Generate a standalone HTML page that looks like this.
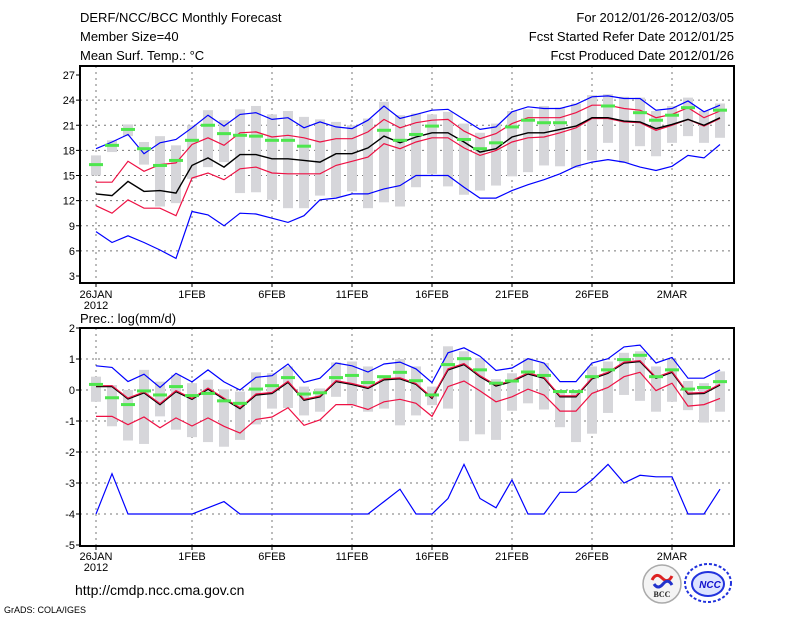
<!DOCTYPE html>
<html><head><meta charset="utf-8"><style>
html,body{margin:0;padding:0;background:#fff;}
svg{display:block;font-family:"Liberation Sans",sans-serif;}
</style></head><body>
<svg id="chart" width="800" height="618" viewBox="0 0 800 618">
<g id="hdr" font-size="13" fill="#000">
<text x="80" y="22">DERF/NCC/BCC Monthly Forecast</text>
<text x="80" y="41">Member Size=40</text>
<text x="80" y="60">Mean Surf. Temp.: °C</text>
<text x="734" y="22" text-anchor="end">For 2012/01/26-2012/03/05</text>
<text x="734" y="41" text-anchor="end">Fcst Started Refer Date 2012/01/25</text>
<text x="734" y="60" text-anchor="end">Fcst Produced Date 2012/01/26</text>
<text x="80" y="323">Prec.: log(mm/d)</text>
<text x="75" y="595" font-size="14">http://cmdp.ncc.cma.gov.cn</text>
<text x="4" y="613" font-size="9">GrADS: COLA/IGES</text>
</g>
<g>
<circle cx="662" cy="584" r="19" fill="#f4f4f4" stroke="#aaa" stroke-width="1.5"/>
<path d="M652 580 q4 -8 10 -2 q6 6 10 -2" stroke="#d22" stroke-width="3" fill="none"/>
<path d="M654 584 q4 6 9 0 q5 -6 9 1" stroke="#23c" stroke-width="3" fill="none"/>
<text x="662" y="597" font-size="8" font-weight="bold" text-anchor="middle" font-family="Liberation Serif,serif" fill="#222">BCC</text>
</g>
<g>
<ellipse cx="708" cy="583" rx="23" ry="19" fill="none" stroke="#23d" stroke-width="2" stroke-dasharray="3 2"/>
<ellipse cx="708" cy="584" rx="16" ry="12" fill="#dde4ff" stroke="#23d" stroke-width="2"/>
<text x="710" y="588" font-size="10" font-weight="bold" font-style="italic" text-anchor="middle" fill="#11c">NCC</text>
</g>
<g id="top"></g>
<g id="bot"></g>
</svg>
<script>
// ---- data: temperature panel ----
const dayLabels = ["26JAN","1FEB","6FEB","11FEB","16FEB","21FEB","26FEB","2MAR"];
const labelDays = [0,6,11,16,21,26,31,36];
const tTicks = [3,6,9,12,15,18,21,24,27];
const tBlueHi = [18.2,19.0,19.9,17.6,18.9,19.3,20.7,22.2,20.9,22.3,22.5,21.7,21.9,20.7,21.4,20.8,20.6,21.6,23.3,21.8,22.3,22.8,22.9,21.7,20.5,20.8,22.6,23.2,23.0,23.0,23.5,24.4,24.5,24.2,24.2,22.8,23.0,23.9,22.6,23.4];
const tRedHi = [14.2,14.2,16.7,15.5,16.3,16.5,18.7,19.5,18.6,20.1,20.2,19.6,19.8,19.5,19.0,19.4,19.4,20.2,21.7,20.7,21.3,21.6,21.7,20.3,19.4,20.0,21.2,21.9,21.9,21.9,22.5,23.4,23.4,23.0,22.8,21.9,22.3,23.1,21.9,22.7];
const tMean = [12.8,12.6,14.3,13.1,13.2,12.9,16.2,17.1,16.0,17.5,17.5,17.0,17.0,16.8,16.6,17.6,17.6,18.3,19.7,18.9,19.6,20.1,20.1,19.0,17.8,18.2,19.6,20.1,20.1,20.5,20.9,21.9,21.9,21.5,21.4,20.6,21.1,21.7,21.0,21.9];
const tRedLo = [11.4,10.5,12.1,11.1,11.1,10.2,14.7,15.3,14.5,15.8,16.0,15.3,15.2,15.2,15.2,16.2,16.7,17.2,18.8,18.2,19.0,19.5,19.5,18.3,17.4,18.0,19.0,19.5,19.6,20.1,20.7,21.8,21.8,21.4,21.3,20.4,21.0,21.7,20.9,21.8];
const tBlueLo = [8.3,7.0,7.8,7.0,6.1,5.1,10.7,10.3,9.0,10.5,10.4,9.9,9.4,10.2,12.1,12.3,12.8,12.8,13.4,13.8,15.0,15.0,15.0,13.6,12.3,12.3,13.2,13.9,14.5,15.2,16.1,16.6,16.9,16.6,16.0,15.6,16.1,17.4,17.1,18.7];
const tObs = [16.3,18.6,20.5,18.2,16.2,16.8,19.2,21.0,20.0,19.8,19.7,19.2,19.2,18.5,null,null,null,null,20.4,19.2,19.9,20.9,null,19.3,18.2,18.9,20.8,21.6,21.3,21.3,null,null,23.3,null,22.5,21.6,22.2,23.1,null,22.8];
const tBarTop = [17.4,19.2,21.1,19.0,19.7,18.6,21.0,22.8,21.6,22.9,23.3,22.3,22.7,22.0,21.7,21.4,21.0,21.8,23.8,22.2,22.4,22.3,22.6,21.2,20.1,21.2,22.7,22.9,23.3,23.1,23.6,24.6,24.7,24.4,24.3,22.7,23.3,24.3,22.7,23.6];
const tBarBot = [15.0,17.8,19.7,16.3,11.3,11.7,14.6,16.0,16.6,12.9,13.0,12.1,11.1,11.1,12.6,12.4,13.1,11.1,11.8,11.3,13.6,15.2,13.7,12.7,13.2,13.8,14.9,15.4,16.2,16.1,15.9,16.8,18.9,16.5,18.5,17.3,18.9,19.7,18.9,19.5];
// ---- data: precipitation panel ----
const pTicks = [-5,-4,-3,-2,-1,0,1,2];
const pBlueHi = [0.78,0.73,0.27,0.51,0.08,0.54,0.26,0.65,0.26,0.0,0.41,0.46,0.84,0.25,0.38,0.87,0.78,0.58,0.84,0.9,0.68,0.24,1.2,1.36,1.09,0.63,0.71,1.01,0.87,0.27,0.27,0.87,1.01,1.39,1.45,0.87,1.05,0.38,0.38,0.65];
const pRedHi = [0.14,0.14,-0.26,-0.06,-0.44,-0.02,-0.27,0.06,-0.26,-0.57,-0.13,-0.08,0.28,-0.30,-0.19,0.30,0.21,0.08,0.36,0.39,0.21,-0.24,0.68,0.85,0.46,0.16,0.30,0.55,0.41,-0.19,-0.19,0.39,0.57,0.90,0.95,0.41,0.60,-0.10,-0.08,0.19];
const pMean = [0.11,0.11,-0.29,-0.09,-0.47,-0.05,-0.30,0.03,-0.29,-0.6,-0.16,-0.11,0.25,-0.33,-0.22,0.27,0.18,0.05,0.33,0.36,0.18,-0.27,0.65,0.82,0.43,0.13,0.27,0.52,0.38,-0.22,-0.22,0.36,0.54,0.87,0.92,0.38,0.57,-0.13,-0.11,0.16];
const pRedLo = [-0.85,-0.85,-1.12,-0.87,-1.22,-0.9,-1.16,-0.9,-1.17,-1.39,-0.95,-0.87,-0.57,-1.14,-0.96,-0.47,-0.47,-0.63,-0.38,-0.3,-0.43,-0.85,0.11,0.29,-0.03,-0.38,-0.22,0.03,-0.16,-0.68,-0.68,-0.11,0.08,0.43,0.57,-0.02,0.22,-0.52,-0.47,-0.27];
const pBlueLo = [-4,-2.7,-4,-4,-4,-4,-4,-3.8,-3.6,-4,-4,-4,-4,-4,-4,-4,-4,-4,-3.6,-3.2,-4,-4,-3.5,-2.4,-3.5,-3.8,-2.9,-4,-4,-3.3,-3.3,-2.9,-2.4,-3.0,-2.75,-2.8,-2.8,-4,-4,-3.2];
const pObs = [0.18,-0.25,-0.47,-0.03,-0.16,0.11,-0.18,-0.11,-0.35,-0.43,0.03,0.14,0.4,-0.13,-0.09,0.4,0.47,0.24,0.43,0.57,0.3,-0.16,0.82,1.01,0.65,0.22,0.29,0.58,0.47,-0.05,-0.05,0.43,0.65,0.98,1.12,0.43,0.65,0.03,0.08,0.27];
const pBarTop = [0.43,0.16,0,0.65,0.27,0.49,0.22,0.33,0.02,-0.05,0.57,0.54,0.76,0.11,0.05,0.89,0.92,0.76,0.43,1.0,0.76,0.11,1.41,1.25,1.03,0.35,0.54,1.03,0.87,0,-0.05,0.76,0.92,1.2,1.25,0.76,0.98,0.29,0.22,0.6];
const pBarBot = [-0.38,-1.17,-1.63,-1.74,-0.85,-1.28,-1.52,-1.68,-1.83,-1.61,-1.11,-0.6,-0.58,-0.82,-0.7,-0.22,-0.49,-0.7,-0.6,-1.14,-0.82,-0.49,-0.6,-1.65,-1.43,-1.61,-0.67,-0.43,-0.63,-1.2,-1.68,-1.41,-0.74,-0.16,-0.35,-0.7,-0.38,-0.65,-1.05,-0.7];

const NS = "http://www.w3.org/2000/svg";
function mk(parent, tag, attrs){ const e=document.createElementNS(NS,tag); for(const k in attrs) e.setAttribute(k,attrs[k]); parent.appendChild(e); return e; }
const X0=80, X1=734;
const xDay = d => 96 + 16*d;

function panel(g, y0, y1, yv, ticks, gridVals, bars, obs, lines, lowerLabelY, name){
  gridVals.forEach(v=>{
    const gl=mk(g,'line',{x1:X0,x2:X1,y1:yv(v),y2:yv(v),stroke:'#777','stroke-dasharray':'2 4','stroke-width':1});
    
    
  });
  labelDays.forEach(d=>{
    const gl=mk(g,'line',{x1:xDay(d),x2:xDay(d),y1:y0,y2:y1,stroke:'#777','stroke-dasharray':'2 4','stroke-width':1});
    
    
  });
  for(let i=0;i<bars[0].length;i++){
    const t=yv(bars[0][i]), b=yv(bars[1][i]);
    const r=mk(g,'rect',{x:xDay(i)-5,y:t,width:10,height:Math.max(1,b-t),fill:'#d6d6da'});
    
    
  }
  lines.forEach(L=>{
    const pts=L.data.map((v,i)=>xDay(i)+','+yv(v).toFixed(1)).join(' ');
    const p=mk(g,'polyline',{points:pts,fill:'none',stroke:L.color,'stroke-width':L.w});
    
    
  });
  obs.forEach((v,i)=>{
    if(v===null) return;
    const r=mk(g,'rect',{x:xDay(i)-7,y:yv(v)-1.5,width:14,height:3,fill:'#4ee64e'});
    
    
  });
  const f=mk(g,'rect',{x:X0,y:y0,width:X1-X0,height:y1-y0,fill:'none',stroke:'#000','stroke-width':2});
  
  
  ticks.forEach(v=>{
    const y=yv(v);
    mk(g,'line',{x1:X0-4,x2:X0,y1:y,y2:y,stroke:'#000'});
    const t=mk(g,'text',{x:X0-5,y:y+4,'text-anchor':'end','font-size':11});
    t.textContent=v;
    
    
  });
  labelDays.forEach((d,k)=>{
    mk(g,'line',{x1:xDay(d),x2:xDay(d),y1:y1,y2:y1+4,stroke:'#000'});
    const t=mk(g,'text',{x:xDay(d),y:lowerLabelY,'text-anchor':'middle','font-size':11});
    t.textContent=dayLabels[k];
    
    
  });
  const yr=mk(g,'text',{x:96,y:lowerLabelY+11,'text-anchor':'middle','font-size':11});
  yr.textContent='2012';
  
  
}

const yT = v => 75 + (27-v)*8.375;
const yP = v => 390 - v*31;

panel(document.getElementById('top'), 66, 283, yT, tTicks, [6,9,12,15,18,21,24],
  [tBarTop,tBarBot], tObs,
  [{data:tBlueLo,color:'#0000ff',w:1.2,name:'temp-min-line'},
   {data:tBlueHi,color:'#0000ff',w:1.2,name:'temp-max-line'},
   {data:tRedLo,color:'#ee1144',w:1.2,name:'temp-lower-spread-line'},
   {data:tRedHi,color:'#ee1144',w:1.2,name:'temp-upper-spread-line'},
   {data:tMean,color:'#000',w:1.4,name:'temp-ensemble-mean-line'}],
  298, 'temp');

panel(document.getElementById('bot'), 328, 546, yP, pTicks, [-4,-3,-2,-1,0,1],
  [pBarTop,pBarBot], pObs,
  [{data:pBlueLo,color:'#0000ff',w:1.2,name:'precip-min-line'},
   {data:pBlueHi,color:'#0000ff',w:1.2,name:'precip-max-line'},
   {data:pRedLo,color:'#ee1144',w:1.2,name:'precip-lower-spread-line'},
   {data:pMean,color:'#000',w:1.4,name:'precip-ensemble-mean-line'},
   {data:pRedHi,color:'#ee1144',w:1.2,name:'precip-upper-spread-line'}],
  560, 'precip');
</script>
</body></html>
